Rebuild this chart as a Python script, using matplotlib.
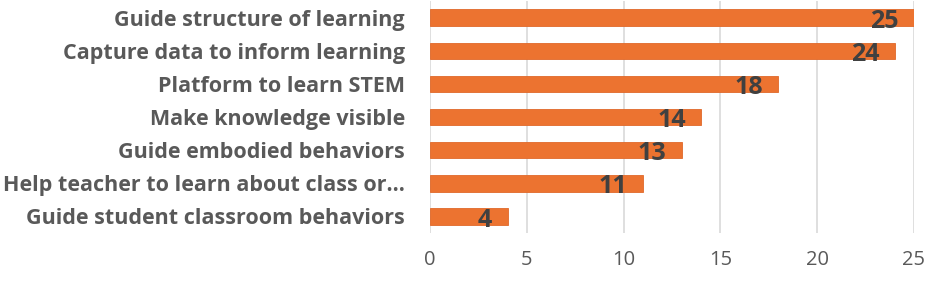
import matplotlib
matplotlib.use("Agg")
import matplotlib.pyplot as plt

# 데이터
categories = ["Guide structure of learning",
              "Capture data to inform learning",
              "Platform to learn STEM",
              "Make knowledge visible",
              "Guide embodied behaviors",
              "Help teacher to learn about class or…",
              "Guide student classroom behaviors"]
values = [25, 24, 18, 14, 13, 11, 4]
xticks = [0, 5, 10, 15, 20, 25]

plt.rcParams['font.family'] = ['Open Sans', 'DejaVu Sans']

fig = plt.figure(figsize=(9.35, 2.81), dpi=100)
ax = fig.add_axes([0.46, 0.171, 0.5175, 0.825])

ypos = list(range(len(categories)))[::-1]
ax.barh(ypos, values, height=0.5, color='#EC7330', edgecolor='#E0692A', linewidth=0.6, zorder=3)

# 데이터 라벨 (막대 안쪽 끝)
for y, v in zip(ypos, values):
    ax.annotate(str(v), (v, y), xytext=(-11, -2.6), textcoords='offset points',
                ha='right', va='center', fontsize=18, fontweight='bold',
                color='#404040', zorder=4)

ax.set_xlim(0, 25)
ax.set_ylim(-0.5, 6.5)
ax.set_xticks(xticks)
ax.set_yticks(ypos)
ax.set_yticklabels(categories, fontsize=15.5, fontweight='bold', color='#595959')
ax.tick_params(axis='x', labelsize=14.5, labelcolor='#595959', length=0, pad=12)
ax.tick_params(axis='y', length=0, pad=18)
ax.grid(axis='x', color='#D9D9D9', linewidth=1.2, zorder=0)
for s in ax.spines.values():
    s.set_visible(False)

fig.savefig("out.png", dpi=100)
